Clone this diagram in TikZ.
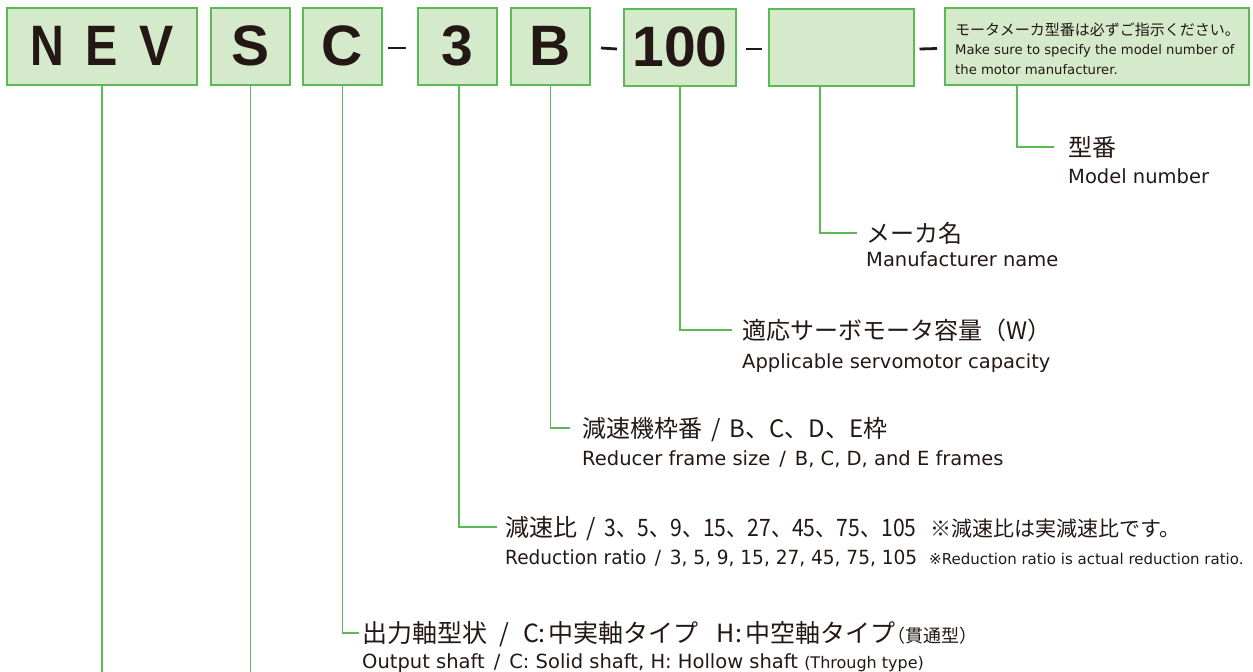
\documentclass[tikz,border=0pt]{standalone}
\usepackage{fontspec}
\usepackage{graphicx}
\setmainfont{Noto Sans CJK JP}
\newfontfamily\codefont{Liberation Sans}
\newfontfamily\enfont{DejaVu Sans}
\usetikzlibrary{calc, positioning}
\definecolor{boxfill}{RGB}{213, 234, 203}
\definecolor{boxgreen}{RGB}{92, 186, 84}
\definecolor{inkdark}{RGB}{35, 24, 21}
\newcommand{\squeeze}[2]{\scalebox{#1}[1]{#2}}
\newcommand{\sep}{\hspace{9pt}/\hspace{9pt}}

\begin{document}
\begin{tikzpicture}[
    x=1pt, y=-1pt,
    box_style/.style={draw=boxgreen, fill=boxfill, line width=2pt,
      minimum height=77pt, inner sep=0pt, text=inkdark,
      font=\codefont\bfseries\fontsize{57}{57}\selectfont},
    line_style/.style={draw=boxgreen, line width=1.8pt},
    dash_style/.style={draw=inkdark, line width=2.8pt},
    jp_style/.style={anchor=west, inner sep=0pt, text=inkdark,
      text height=18pt, text depth=0pt,
      font=\fontsize{24}{28}\selectfont},
    en_style/.style={anchor=west, inner sep=0pt, text=inkdark,
      text height=14pt, text depth=0pt,
      font=\enfont\fontsize{19.5}{22}\selectfont},
    note_style/.style={anchor=west, inner sep=0pt, text=inkdark,
      text depth=0pt}
]
    \useasboundingbox (0,0) rectangle (1253,672);

    % --- Cases du code ---
    \node[box_style, minimum width=190pt] (nev) at (102,46)
        {\squeeze{0.82}{N}\hspace{21pt}\squeeze{0.85}{E}\hspace{22pt}\squeeze{0.9}{V}};
    \node[box_style, minimum width=79pt] (ser) at (250.5,46) {S};
    \node[box_style, minimum width=79pt] (shaft) at (342.5,46) {C};
    \node[box_style, minimum width=79pt] (ratio) at (457,46) {3};
    \node[box_style, minimum width=79pt] (frame) at (550.5,46) {B};
    \node[box_style, minimum width=112pt] (cap) at (680,47) {100};
    \node[box_style, minimum width=145pt] (maker) at (841,47) {};
    \node[box_style, minimum width=304pt] (note) at (1097,46.5) {};

    % --- Tirets ---
    \draw[dash_style] ([xshift=5pt, yshift=-2pt]shaft.east)
        -- ([xshift=-11pt, yshift=-2pt]ratio.west);
    \draw[dash_style] ([xshift=10pt, yshift=-2pt]frame.east)
        -- ([xshift=-6pt, yshift=-2pt]cap.west);
    \draw[dash_style] ([xshift=9pt, yshift=-2pt]cap.east)
        -- ([xshift=-6pt, yshift=-2pt]maker.west);
    \draw[dash_style] ([xshift=5pt, yshift=-2pt]maker.east)
        -- ([xshift=-7pt, yshift=-2pt]note.west);

    % --- Texte de la remarque ---
    \node[note_style, text height=11.4pt, font=\fontsize{15}{18}\selectfont]
        (note_jp) at (955,30) {モータメーカ型番は必ずご指示ください。};
    \node[note_style, text height=9.6pt, font=\enfont\fontsize{13.2}{16}\selectfont]
        (note_en1) at (955,50) {Make sure to specify the model number of};
    \node[note_style, text height=9.6pt, font=\enfont\fontsize{13.2}{16}\selectfont]
        (note_en2) at (955,70) {the motor manufacturer.};

    % --- Libellés ---
    \node[jp_style] (model_jp) at (1068,147) {型番};
    \node[en_style] (model_en) at (1068,176) {Model number};

    \node[jp_style] (maker_jp) at (866,233) {メーカ名};
    \node[en_style] (maker_en) at (866,259) {Manufacturer name};

    \node[jp_style] (cap_jp) at (742,330) {適応サーボモータ容量（W）};
    \node[en_style] (cap_en) at (742,361) {Applicable servomotor capacity};

    \node[jp_style] (frame_jp) at (582,428) {減速機枠番\sep B、C、D、E枠};
    \node[en_style] (frame_en) at (582,458)
        {Reducer frame size\sep B, C, D, and E frames};

    \node[jp_style] (ratio_jp) at (505,527)
        {減速比\sep\squeeze{0.88}{3、5、9、15、27、45、75、105}\hspace{14pt}{\fontsize{21}{24}\selectfont ※減速比は実減速比です。}};
    \node[en_style] (ratio_en) at (505,557)
        {\squeeze{0.95}{Reduction ratio\sep 3, 5, 9, 15, 27, 45, 75, 105}\hspace{12pt}{\fontsize{15}{18}\selectfont ※Reduction ratio is actual reduction ratio.}};

    \node[jp_style, font=\fontsize{25}{28}\selectfont] (shaft_jp) at (362,633)
        {出力軸型状\hspace{12pt}/\hspace{14pt}C:\hspace{3pt}中実軸タイプ\hspace{18pt}H:\hspace{3pt}中空軸タイプ\hspace{-8pt}{\fontsize{18}{20}\selectfont（貫通型）}};
    \node[en_style] (shaft_en) at (362,661)
        {Output shaft\sep C: Solid shaft, H: Hollow shaft {\fontsize{16}{18}\selectfont(Through type)}};

    % --- Lignes de renvoi ---
    \draw[line_style] ([xshift=-80pt]note.south) |- ([xshift=-14pt]model_jp.west);
    \draw[line_style] ([xshift=-21pt]maker.south) |- ([xshift=-9pt]maker_jp.west);
    \draw[line_style] (cap.south) |- ([xshift=-10pt]cap_jp.west);
    \draw[line_style] (frame.south) |- ([xshift=-12pt]frame_jp.west);
    \draw[line_style] ([xshift=2pt]ratio.south) |- ([xshift=-8pt]ratio_jp.west);
    \draw[line_style] (shaft.south) |- ([xshift=-3pt]shaft_jp.west);
    \coordinate (nev_end) at (102,672);
    \coordinate (ser_end) at (250.5,672);
    \draw[line_style] (nev.south) -- (nev_end);
    \draw[line_style] (ser.south) -- (ser_end);
\end{tikzpicture}
\end{document}
